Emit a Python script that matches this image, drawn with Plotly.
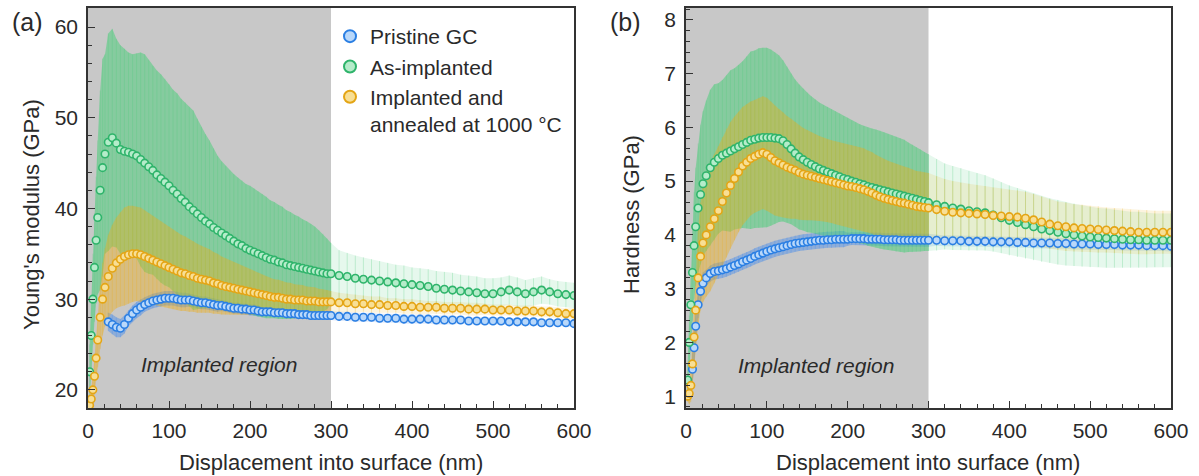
import plotly.graph_objects as go

# ---------------- data ----------------
depth = [2, 4, 6, 8, 10, 12, 15, 18, 21, 25, 30, 35, 40, 45, 50, 55, 60, 65, 70, 75, 80, 85, 90, 95,
         100, 105, 110, 115, 120, 125, 130, 135, 140, 145, 150, 155, 160, 165, 170, 175, 180, 185, 190, 195,
         200, 205, 210, 215, 220, 225, 230, 235, 240, 245, 250, 255, 260, 265, 270, 275, 280, 285, 290, 295, 300,
         310, 320, 330, 340, 350, 360, 370, 380, 390, 400, 410, 420, 430, 440, 450, 460, 470, 480, 490, 500,
         510, 520, 530, 540, 550, 560, 570, 580, 590, 600]

# (a) Young's modulus (GPa)
E_pristine = [None, None, None, None, None, None, None, None, None,
              27.5, 27.2, 26.9, 26.8, 27.2, 27.9, 28.4, 28.8, 29.1, 29.4, 29.6, 29.8, 29.9, 30.0, 30.1,
              30.1, 30.1, 30.0, 29.9, 29.9, 29.9, 29.8, 29.7, 29.6, 29.6, 29.5, 29.4, 29.3, 29.3, 29.2, 29.1, 29.0, 29.0, 28.9, 28.9,
              28.8, 28.8, 28.7, 28.6, 28.6, 28.6, 28.5, 28.5, 28.5, 28.4, 28.4, 28.4, 28.3, 28.3, 28.3, 28.2, 28.2, 28.2, 28.2, 28.2, 28.2,
              28.1, 28.1, 28.0, 28.0, 28.0, 27.9, 27.9, 27.9, 27.8, 27.8, 27.8, 27.8, 27.7, 27.7, 27.7, 27.7, 27.6, 27.6, 27.6, 27.6,
              27.6, 27.5, 27.5, 27.5, 27.5, 27.4, 27.4, 27.4, 27.4, 27.3]
E_pristine_err = [None, None, None, None, None, None, None, None, None,
                  1.0, 1.1, 1.1, 1.0, 1.0, 0.9, 0.9, 0.9, 0.9, 0.8, 0.8, 0.8, 0.8, 0.8, 0.8,
                  0.8, 0.8, 0.8, 0.8, 0.8, 0.7, 0.7, 0.7, 0.7, 0.7, 0.7, 0.7, 0.7, 0.6, 0.6, 0.6, 0.6, 0.6, 0.6, 0.6,
                  0.6, 0.6, 0.6, 0.5, 0.5, 0.5, 0.5, 0.5, 0.5, 0.5, 0.5, 0.5, 0.5, 0.5, 0.5, 0.5, 0.5, 0.5, 0.5, 0.5, 0.5,
                  0.5, 0.5, 0.5, 0.5, 0.5, 0.5, 0.5, 0.5, 0.5, 0.5, 0.5, 0.5, 0.5, 0.5, 0.5, 0.4, 0.4, 0.4, 0.4, 0.4,
                  0.4, 0.4, 0.4, 0.4, 0.4, 0.4, 0.4, 0.4, 0.4, 0.4]
E_as = [22.0, 26.0, 30.0, 33.5, 36.5, 39.0, 42.0, 44.5, 46.0, 47.3, 47.8, 47.2, 46.5, 46.3, 46.2, 46.0, 45.8, 45.4, 45.0, 44.6, 44.2, 43.7, 43.3, 42.9,
        42.5, 42.0, 41.6, 41.1, 40.7, 40.2, 39.8, 39.4, 39.0, 38.6, 38.3, 37.9, 37.6, 37.3, 37.0, 36.7, 36.4, 36.1, 35.9, 35.6,
        35.4, 35.2, 35.0, 34.8, 34.6, 34.4, 34.3, 34.1, 34.0, 33.8, 33.7, 33.6, 33.5, 33.4, 33.3, 33.2, 33.1, 33.0, 32.9, 32.8, 32.8,
        32.6, 32.5, 32.3, 32.2, 32.1, 32.0, 31.9, 31.8, 31.7, 31.6, 31.5, 31.4, 31.2, 31.1, 31.0, 30.9, 30.8, 30.7, 30.6, 30.6,
        30.8, 31.0, 30.8, 30.6, 30.8, 31.0, 30.8, 30.6, 30.5, 30.4]
E_as_err = [3, 4, 5, 6, 7, 8.5, 11, 12, 11, 12, 12, 11.5, 11.5, 11.3, 11, 11, 11.3, 11.8, 12, 11.8, 11.5, 11.5, 11.5, 11.4,
            11.2, 11.1, 11.1, 11.0, 11.0, 11.0, 11.0, 10.5, 10.0, 9.6, 9.2, 8.7, 8.2, 7.9, 7.7, 7.5, 7.4, 7.3, 7.2, 7.1,
            7.1, 7.0, 6.9, 6.8, 6.7, 6.5, 6.4, 6.3, 6.2, 6.0, 5.9, 5.7, 5.6, 5.4, 5.3, 5.1, 4.9, 4.6, 4.3, 3.9, 3.4,
            2.8, 2.6, 2.5, 2.4, 2.3, 2.2, 2.1, 2.0, 2.0, 1.9, 1.9, 1.9, 1.9, 1.9, 1.9, 1.8, 1.8, 1.8, 1.7, 1.7,
            1.6, 1.6, 1.6, 1.5, 1.5, 1.5, 1.4, 1.4, 1.4, 1.4]
E_ann = [18.3, 19.0, 20.0, 21.5, 23.5, 25.5, 28.0, 30.0, 31.3, 32.5, 33.4, 34.0, 34.4, 34.7, 34.9, 35.0, 35.0, 34.9, 34.7, 34.5, 34.3, 34.1, 33.9, 33.7,
         33.5, 33.3, 33.1, 32.9, 32.8, 32.6, 32.5, 32.3, 32.2, 32.1, 32.0, 31.8, 31.7, 31.5, 31.4, 31.3, 31.2, 31.1, 31.0, 30.9,
         30.8, 30.7, 30.6, 30.5, 30.4, 30.3, 30.2, 30.2, 30.1, 30.0, 30.0, 29.9, 29.9, 29.9, 29.8, 29.8, 29.8, 29.7, 29.7, 29.7, 29.7,
         29.6, 29.6, 29.5, 29.5, 29.4, 29.4, 29.3, 29.3, 29.2, 29.2, 29.1, 29.1, 29.1, 29.0, 29.0, 29.0, 28.9, 28.9, 28.9, 28.8,
         28.8, 28.8, 28.7, 28.7, 28.7, 28.6, 28.6, 28.5, 28.4, 28.4]
E_ann_err = [0.5, 1, 1.5, 2, 2.5, 3, 3.5, 4, 4.3, 4.6, 4.8, 5, 5.2, 5.4, 5.4, 5.3, 5.2, 5.2, 5.1, 5, 4.9, 4.8, 4.7, 4.6,
             4.5, 4.4, 4.3, 4.2, 4.1, 4.0, 3.9, 3.8, 3.7, 3.6, 3.5, 3.4, 3.3, 3.2, 3.1, 3.0, 2.9, 2.8, 2.7, 2.6,
             2.5, 2.4, 2.3, 2.2, 2.1, 2.05, 2.0, 1.95, 1.9, 1.85, 1.8, 1.75, 1.7, 1.65, 1.6, 1.55, 1.5, 1.45, 1.4, 1.3, 1.2,
             1.1, 1.0, 1.0, 0.9, 0.9, 0.9, 0.8, 0.8, 0.8, 0.8, 0.8, 0.7, 0.7, 0.7, 0.7, 0.7, 0.7, 0.7, 0.6, 0.6,
             0.6, 0.6, 0.6, 0.6, 0.6, 0.6, 0.6, 0.6, 0.6, 0.6]

# (b) Hardness (GPa)
H_pristine = [None, None, None, 1.5, 1.9, 2.3, 2.7, 2.95, 3.1, 3.2, 3.28, 3.32, 3.33, 3.35, 3.37, 3.4, 3.43, 3.46, 3.5, 3.53, 3.56, 3.6, 3.63, 3.66,
              3.69, 3.72, 3.74, 3.76, 3.78, 3.8, 3.82, 3.84, 3.85, 3.86, 3.87, 3.88, 3.89, 3.9, 3.9, 3.91, 3.91, 3.92, 3.92, 3.92,
              3.92, 3.93, 3.93, 3.93, 3.93, 3.92, 3.92, 3.92, 3.92, 3.91, 3.91, 3.91, 3.91, 3.9, 3.9, 3.9, 3.9, 3.9, 3.9, 3.9, 3.9,
              3.9, 3.89, 3.89, 3.89, 3.88, 3.88, 3.88, 3.87, 3.87, 3.87, 3.86, 3.86, 3.85, 3.85, 3.85, 3.84, 3.84, 3.83, 3.83, 3.83,
              3.82, 3.82, 3.82, 3.81, 3.81, 3.81, 3.8, 3.8, 3.8, 3.79]
H_pristine_err = [None, None, None, 0.3, 0.3, 0.3, 0.25, 0.2, 0.2, 0.15, 0.15, 0.15, 0.15, 0.15, 0.15, 0.15, 0.15, 0.15, 0.15, 0.15, 0.15, 0.15, 0.15, 0.15,
                  0.15, 0.15, 0.15, 0.15, 0.15, 0.15, 0.15, 0.15, 0.15, 0.15, 0.15, 0.15, 0.15, 0.15, 0.15, 0.15, 0.15, 0.15, 0.15, 0.15,
                  0.12, 0.12, 0.12, 0.12, 0.12, 0.12, 0.12, 0.12, 0.12, 0.12, 0.12, 0.12, 0.12, 0.12, 0.12, 0.12, 0.12, 0.12, 0.12, 0.12, 0.12,
                  0.1, 0.1, 0.1, 0.1, 0.1, 0.1, 0.1, 0.1, 0.1, 0.1, 0.1, 0.1, 0.1, 0.1, 0.1, 0.1, 0.1, 0.1, 0.1, 0.1,
                  0.1, 0.1, 0.1, 0.1, 0.1, 0.1, 0.1, 0.1, 0.1, 0.1]
H_as = [1.3, 2.0, 2.7, 3.3, 3.8, 4.15, 4.5, 4.75, 4.95, 5.1, 5.25, 5.35, 5.42, 5.48, 5.52, 5.56, 5.6, 5.64, 5.68, 5.72, 5.76, 5.78, 5.8, 5.81,
        5.81, 5.81, 5.8, 5.79, 5.75, 5.68, 5.6, 5.52, 5.45, 5.4, 5.35, 5.31, 5.27, 5.23, 5.2, 5.17, 5.14, 5.11, 5.08, 5.05,
        5.03, 5.0, 4.98, 4.95, 4.93, 4.9, 4.88, 4.86, 4.84, 4.82, 4.8, 4.78, 4.76, 4.74, 4.72, 4.7, 4.68, 4.66, 4.64, 4.62, 4.6,
        4.56, 4.53, 4.5, 4.48, 4.45, 4.43, 4.41, 4.37, 4.32, 4.27, 4.23, 4.19, 4.15, 4.11, 4.08, 4.05, 4.02, 4.0, 3.98, 3.96,
        3.95, 3.94, 3.93, 3.92, 3.91, 3.91, 3.9, 3.9, 3.9, 3.9]
H_as_err = [0.3, 0.5, 0.7, 0.9, 1.0, 1.1, 1.2, 1.3, 1.35, 1.4, 1.45, 1.45, 1.4, 1.4, 1.45, 1.5, 1.5, 1.52, 1.55, 1.6, 1.65, 1.65, 1.67, 1.67,
            1.67, 1.64, 1.6, 1.55, 1.5, 1.45, 1.4, 1.37, 1.35, 1.32, 1.3, 1.27, 1.25, 1.23, 1.22, 1.21, 1.2, 1.19, 1.18, 1.16,
            1.15, 1.13, 1.12, 1.11, 1.1, 1.1, 1.1, 1.1, 1.1, 1.09, 1.08, 1.07, 1.07, 1.06, 1.05, 1.02, 1.0, 0.97, 0.95, 0.92, 0.9,
            0.85, 0.8, 0.78, 0.76, 0.74, 0.72, 0.7, 0.68, 0.66, 0.65, 0.64, 0.63, 0.62, 0.61, 0.6, 0.6, 0.59, 0.58, 0.57, 0.56,
            0.55, 0.55, 0.54, 0.53, 0.52, 0.52, 0.51, 0.5, 0.5, 0.5]
H_ann = [1.0, 1.05, 1.2, 1.6, 2.1, 2.6, 3.2, 3.6, 3.85, 4.0, 4.15, 4.3, 4.45, 4.62, 4.78, 4.92, 5.05, 5.17, 5.28, 5.35, 5.42, 5.46, 5.5, 5.53,
         5.5, 5.44, 5.38, 5.34, 5.3, 5.26, 5.23, 5.2, 5.16, 5.13, 5.11, 5.09, 5.07, 5.05, 5.03, 5.01, 4.99, 4.97, 4.95, 4.93,
         4.91, 4.9, 4.88, 4.86, 4.84, 4.81, 4.78, 4.74, 4.71, 4.68, 4.66, 4.64, 4.62, 4.6, 4.59, 4.57, 4.55, 4.53, 4.52, 4.51, 4.5,
         4.47, 4.44, 4.42, 4.41, 4.4, 4.39, 4.38, 4.36, 4.35, 4.34, 4.33, 4.31, 4.28, 4.24, 4.2, 4.17, 4.15, 4.13, 4.12, 4.11,
         4.1, 4.09, 4.08, 4.07, 4.06, 4.05, 4.05, 4.05, 4.05, 4.05]
H_ann_err = [0.1, 0.2, 0.3, 0.45, 0.6, 0.75, 0.9, 1.0, 1.1, 1.15, 1.2, 1.2, 1.2, 1.2, 1.2, 1.18, 1.15, 1.12, 1.1, 1.08, 1.06, 1.05, 1.05, 1.05,
             1.05, 1.04, 1.02, 1.0, 0.98, 0.95, 0.93, 0.9, 0.88, 0.86, 0.84, 0.82, 0.8, 0.79, 0.78, 0.77, 0.77, 0.77, 0.77, 0.77,
             0.77, 0.77, 0.77, 0.77, 0.77, 0.76, 0.76, 0.75, 0.74, 0.73, 0.72, 0.71, 0.7, 0.69, 0.68, 0.68, 0.67, 0.66, 0.66, 0.65, 0.65,
             0.62, 0.6, 0.58, 0.56, 0.55, 0.54, 0.53, 0.52, 0.51, 0.5, 0.5, 0.49, 0.48, 0.47, 0.46, 0.45, 0.45, 0.44, 0.44, 0.43,
             0.43, 0.42, 0.42, 0.42, 0.41, 0.41, 0.41, 0.4, 0.4, 0.4]

series_names = ["Pristine GC", "As-implanted", "Implanted and<br>annealed at 1000 °C"]
x_ticks = [0, 100, 200, 300, 400, 500, 600]
implanted_depth = 300

# ---------------- styling ----------------
FONT = "Liberation Sans, Arial, sans-serif"
TXT = "#2a2a2a"
AX = "#333333"
W, H = 1199, 476
MT, MB = 8, 68
PH = H - MT - MB

STY = [
    dict(line="#2b7fe3", fill="#b9d8fa", band_in="rgba(70,140,235,0.45)", band_out="rgba(70,140,235,0.18)", bar="rgba(70,140,235,0.35)"),
    dict(line="#2fb46b", fill="#b5ecca", band_in="rgba(80,205,125,0.55)", band_out="rgba(80,205,125,0.14)", bar="rgba(80,205,125,0.35)"),
    dict(line="#e4a515", fill="#f8df95", band_in="rgba(235,175,30,0.42)", band_out="rgba(235,175,30,0.14)", bar="rgba(235,175,30,0.35)"),
]


def px_x(p):
    return p / W


def px_y(p):
    return 1 - (p - MT) / PH


fig = go.Figure()


def add_panel(xa, ya, data, legend):
    clean = []
    for vals, errs in data:
        idx = [i for i in range(len(depth)) if vals[i] is not None]
        clean.append(([depth[i] for i in idx], [vals[i] for i in idx], [errs[i] for i in idx]))
    # error bands (dense error bars in the original)
    for k, (xs, ys, es) in enumerate(clean):
        for lo, hi, col in [(0, implanted_depth, STY[k]["band_in"]), (implanted_depth, 600, STY[k]["band_out"])]:
            sel = [i for i in range(len(xs)) if lo <= xs[i] <= hi]
            xx = [xs[i] for i in sel]
            up = [ys[i] + es[i] for i in sel]
            dn = [ys[i] - es[i] for i in sel]
            fig.add_trace(go.Scatter(x=xx, y=up, mode="lines", line=dict(width=0), xaxis=xa, yaxis=ya,
                                     showlegend=False, hoverinfo="skip"))
            fig.add_trace(go.Scatter(x=xx, y=dn, mode="lines", line=dict(width=0), fill="tonexty",
                                     fillcolor=col, xaxis=xa, yaxis=ya, showlegend=False, hoverinfo="skip"))
    # thin error bars
    for k, (xs, ys, es) in enumerate(clean):
        fig.add_trace(go.Scatter(x=xs, y=ys, mode="markers", marker=dict(size=1, color="rgba(0,0,0,0)"),
                                 error_y=dict(type="data", array=es, color=STY[k]["bar"], thickness=0.8, width=0),
                                 xaxis=xa, yaxis=ya, showlegend=False, hoverinfo="skip"))
    # markers
    for k, (xs, ys, es) in enumerate(clean):
        fig.add_trace(go.Scatter(x=xs, y=ys, mode="markers", name=series_names[k],
                                 marker=dict(size=7.5, color=STY[k]["fill"], line=dict(color=STY[k]["line"], width=1.6)),
                                 xaxis=xa, yaxis=ya, showlegend=legend))


add_panel("x", "y", [(E_pristine, E_pristine_err), (E_as, E_as_err), (E_ann, E_ann_err)], True)
add_panel("x2", "y2", [(H_pristine, H_pristine_err), (H_as, H_as_err), (H_ann, H_ann_err)], False)

common_x = dict(range=[0, 600], tickvals=x_ticks, ticks="inside", ticklen=7, tickwidth=1.4, tickcolor=AX,
                showline=True, linecolor=AX, linewidth=1.6, mirror=True, showgrid=False, zeroline=False,
                automargin=False, ticklabelstandoff=3,
                tickfont=dict(size=21, color=TXT, family=FONT),
                minor=dict(dtick=20, ticks="inside", ticklen=4, tickwidth=1.2, tickcolor=AX, showgrid=False))
common_y = dict(ticks="inside", ticklen=7, tickwidth=1.4, tickcolor=AX,
                showline=True, linecolor=AX, linewidth=1.6, mirror=True, showgrid=False, zeroline=False,
                automargin=False, ticklabelstandoff=4,
                tickfont=dict(size=21, color=TXT, family=FONT))

fig.update_layout(
    width=W, height=H,
    margin=dict(l=0, r=0, t=MT, b=MB),
    paper_bgcolor="white", plot_bgcolor="white",
    font=dict(family=FONT, color=TXT, size=21),
    xaxis=dict(domain=[px_x(88), px_x(574)], anchor="y", **common_x),
    xaxis2=dict(domain=[px_x(686), px_x(1171)], anchor="y2", **common_x),
    yaxis=dict(domain=[0, 1], anchor="x", range=[18.0, 62.1], tickvals=[20, 30, 40, 50, 60],
               minor=dict(dtick=2, ticks="inside", ticklen=4, tickwidth=1.2, tickcolor=AX, showgrid=False), **common_y),
    yaxis2=dict(domain=[0, 1], anchor="x2", range=[0.78, 8.22], tickvals=[1, 2, 3, 4, 5, 6, 7, 8],
                minor=dict(dtick=0.2, ticks="inside", ticklen=4, tickwidth=1.2, tickcolor=AX, showgrid=False), **common_y),
    legend=dict(x=px_x(330), xanchor="left", y=px_y(16), yanchor="top", bgcolor="rgba(0,0,0,0)",
                font=dict(size=21, color=TXT, family=FONT), itemsizing="constant", valign="top",
                tracegroupgap=0, traceorder="normal"),
    shapes=[
        dict(type="rect", xref="x", yref="y domain", x0=0, x1=implanted_depth, y0=0, y1=1,
             fillcolor="#c8c8c8", line=dict(width=0), layer="below"),
        dict(type="rect", xref="x2", yref="y2 domain", x0=0, x1=implanted_depth, y0=0, y1=1,
             fillcolor="#c8c8c8", line=dict(width=0), layer="below"),
    ],
    annotations=[
        dict(text="(a)", xref="paper", yref="paper", x=px_x(27), y=px_y(22), showarrow=False,
             xanchor="center", yanchor="middle", font=dict(size=25, color=TXT)),
        dict(text="(b)", xref="paper", yref="paper", x=px_x(625), y=px_y(22), showarrow=False,
             xanchor="center", yanchor="middle", font=dict(size=25, color=TXT)),
        dict(text="Young's modulus (GPa)", xref="paper", yref="paper", x=px_x(32), y=px_y(215), textangle=-90,
             showarrow=False, xanchor="center", yanchor="middle", font=dict(size=22, color=TXT)),
        dict(text="Hardness (GPa)", xref="paper", yref="paper", x=px_x(632), y=px_y(215), textangle=-90,
             showarrow=False, xanchor="center", yanchor="middle", font=dict(size=22, color=TXT)),
        dict(text="Displacement into surface (nm)", xref="paper", yref="paper", x=px_x(331), y=px_y(462),
             showarrow=False, xanchor="center", yanchor="middle", font=dict(size=22, color=TXT)),
        dict(text="Displacement into surface (nm)", xref="paper", yref="paper", x=px_x(928), y=px_y(462),
             showarrow=False, xanchor="center", yanchor="middle", font=dict(size=22, color=TXT)),
        dict(text="<i>Implanted region</i>", xref="x", yref="y", x=162, y=22.8, showarrow=False,
             xanchor="center", yanchor="middle", font=dict(size=21, color=TXT)),
        dict(text="<i>Implanted region</i>", xref="x2", yref="y2", x=161, y=1.57, showarrow=False,
             xanchor="center", yanchor="middle", font=dict(size=21, color=TXT)),
    ],
)

# remove the default page margin so the figure sits at the window's top-left corner
fig.write_html("out.html", config={"displayModeBar": False},
               post_script="document.body.style.margin='0';")
